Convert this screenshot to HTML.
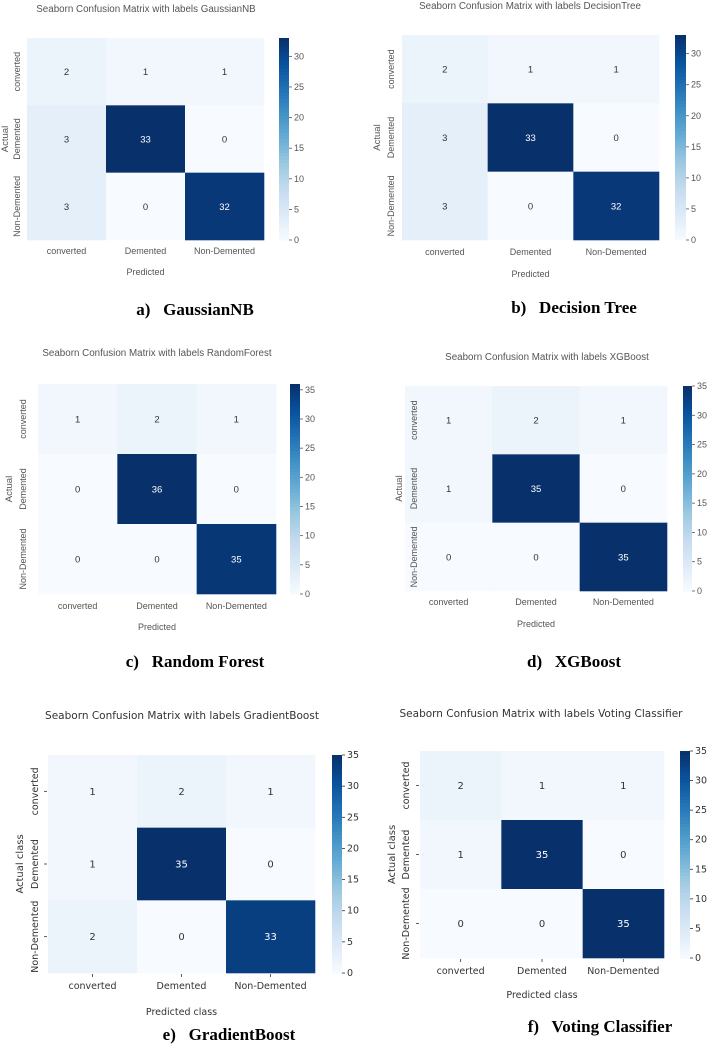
<!DOCTYPE html>
<html><head><meta charset="utf-8">
<style>
html,body{margin:0;padding:0;background:#fff;}
svg{display:block;}
</style></head>
<body>
<svg id="fig" width="708" height="1045" viewBox="0 0 708 1045" xmlns="http://www.w3.org/2000/svg"></svg>
<script>
const classLabels = ["converted","Demented","Non-Demented"];
const gaussianNB = [[2,1,1],[3,33,0],[3,0,32]];
const decisionTree = [[2,1,1],[3,33,0],[3,0,32]];
const randomForest = [[1,2,1],[0,36,0],[0,0,35]];
const xgBoost = [[1,2,1],[1,35,0],[0,0,35]];
const gradientBoost = [[1,2,1],[1,35,0],[2,0,33]];
const votingClassifier = [[2,1,1],[1,35,0],[0,0,35]];
const colorbarTicks = [0,5,10,15,20,25,30,35];
const modelNames = ["GaussianNB","DecisionTree","RandomForest","XGBoost","GradientBoost","Voting Classifier"];
const captions = ["a)\u2002 GaussianNB","b)\u2002 Decision Tree","c)\u2002 Random Forest","d)\u2002 XGBoost","e)\u2002 GradientBoost","f)\u2002 Voting Classifier"];

const matrices=[gaussianNB,decisionTree,randomForest,xgBoost,gradientBoost,votingClassifier];
const layouts=[
 {x0:27,x1:264,y0:38,y1:240,cb0:279,cb1:289,tY:12,tX:146,lY:254,pY:275,cY:315,cX:195,aX:8,rX:20,style:1,actual:"Actual",pred:"Predicted"},
 {x0:402,x1:659,y0:35,y1:240,cb0:675,cb1:686,tY:9,tX:530,lY:255,pY:277,cY:313,cX:574,aX:380,rX:394,style:1,actual:"Actual",pred:"Predicted"},
 {x0:38,x1:276,y0:384,y1:594,cb0:290,cb1:300,tY:356,tX:157,lY:609,pY:630,cY:667,cX:195,aX:12,rX:26,style:1,actual:"Actual",pred:"Predicted"},
 {x0:405,x1:667,y0:386,y1:591,cb0:683,cb1:692,tY:360,tX:547,lY:605,pY:627,cY:667,cX:574,aX:402,rX:417,style:1,actual:"Actual",pred:"Predicted"},
 {x0:48,x1:315,y0:755,y1:973,cb0:332,cb1:342,tY:719,tX:182,lY:989,pY:1015,cY:1040,cX:229,aX:23,rX:38,style:2,actual:"Actual class",pred:"Predicted class"},
 {x0:420,x1:664,y0:751,y1:958,cb0:680,cb1:690,tY:717,tX:541,lY:974,pY:998,cY:1032,cX:600,aX:395,rX:409,style:2,actual:"Actual class",pred:"Predicted class"}
];
const blues=["#f7fbff","#deebf7","#c6dbef","#9ecae1","#6baed6","#4292c6","#2171b5","#08519c","#08306b"];
function hex(h){return [1,3,5].map(i=>parseInt(h.substr(i,2),16));}
function cmap(t){t=Math.max(0,Math.min(1,t));const p=t*8;const i=Math.min(7,Math.floor(p));const f=p-i;
 const a=hex(blues[i]),b=hex(blues[i+1]);return "rgb("+a.map((v,k)=>Math.round(v+(b[k]-v)*f)).join(",")+")";}
const NS="http://www.w3.org/2000/svg";
const fig=document.getElementById('fig');
function mk(tag,attrs,parent,text){const e=document.createElementNS(NS,tag);for(const k in attrs)e.setAttribute(k,attrs[k]);if(text!==undefined)e.textContent=text;parent.appendChild(e);return e;}

matrices.forEach((m,pi)=>{
 const L=layouts[pi];
 const font=L.style===1?'"Liberation Sans", sans-serif':'"DejaVu Sans", sans-serif';
 const fc=L.style===1?'#555':'#333';
 const fs=L.style===1?9:9.5;
 const g=mk('g',{},fig);
 
 
 let vmax=0;m.forEach(r=>r.forEach(v=>{if(v>vmax)vmax=v;}));
 const xs=c=>L.x0+(L.x1-L.x0)*c/3;
 const ys=r=>L.y0+(L.y1-L.y0)*r/3;
 const t=mk('text',{x:L.tX,y:L.tY,'text-anchor':'middle','font-family':font,'font-size':L.style===1?9.8:10.5,fill:fc},g,"Seaborn Confusion Matrix with labels "+modelNames[pi]);
 
 
 m.forEach((row,r)=>row.forEach((v,c)=>{
  const rc=mk('rect',{x:xs(c),y:ys(r),width:xs(c+1)-xs(c)+0.3,height:ys(r+1)-ys(r)+0.3,fill:cmap(v/vmax)},g);
  
  
  const tx=mk('text',{x:(xs(c)+xs(c+1))/2,y:(ys(r)+ys(r+1))/2+3.5,'text-anchor':'middle','font-family':font,'font-size':fs+0.5,fill:v/vmax>0.5?'#fff':'#333'},g,String(v));
  
  
 }));
 const N=60,h=(L.y1-L.y0)/N;
 for(let i=0;i<N;i++){
  const s=mk('rect',{x:L.cb0,y:L.y1-(i+1)*h,width:L.cb1-L.cb0,height:h+0.5,fill:cmap((i+0.5)/N)},g);
  
  
 }
 colorbarTicks.forEach(tv=>{
  if(tv>vmax)return;
  const y=L.y1-(L.y1-L.y0)*tv/vmax;
  mk('line',{x1:L.cb1,x2:L.cb1+3,y1:y,y2:y,stroke:fc,'stroke-width':0.8},g);
  const tl=mk('text',{x:L.cb1+5,y:y+3,'font-family':font,'font-size':fs,fill:fc},g,String(tv));
  
  
 });
 classLabels.forEach((lab,i)=>{
  const cx=(xs(i)+xs(i+1))/2;
  const xl=mk('text',{x:cx,y:L.lY,'text-anchor':'middle','font-family':font,'font-size':fs,fill:fc},g,lab);
  
  
  const cy=(ys(i)+ys(i+1))/2;
  const yl=mk('text',{x:L.rX,y:cy,'text-anchor':'middle','font-family':font,'font-size':fs,fill:fc,transform:'rotate(-90 '+L.rX+' '+cy+')'},g,lab);
  
  
  if(L.style===2){
   mk('line',{x1:cx,x2:cx,y1:L.y1+1,y2:L.y1+4,stroke:fc,'stroke-width':0.8},g);
   mk('line',{x1:L.x0-4,x2:L.x0-1,y1:cy,y2:cy,stroke:fc,'stroke-width':0.8},g);
  }
 });
 const ay=(L.y0+L.y1)/2;
 const al=mk('text',{x:L.aX,y:ay,'text-anchor':'middle','font-family':font,'font-size':fs+0.5,fill:fc,transform:'rotate(-90 '+L.aX+' '+ay+')'},g,L.actual);
 
 
 const pl=mk('text',{x:(L.x0+L.x1)/2,y:L.pY,'text-anchor':'middle','font-family':font,'font-size':fs,fill:fc},g,L.pred);
 
 
 const cp=mk('text',{x:L.cX,y:L.cY,'text-anchor':'middle','font-family':'"Liberation Serif", serif','font-size':17,'font-weight':'bold',fill:'#000'},g,captions[pi]);
 
 
});
</script>
</body></html>
